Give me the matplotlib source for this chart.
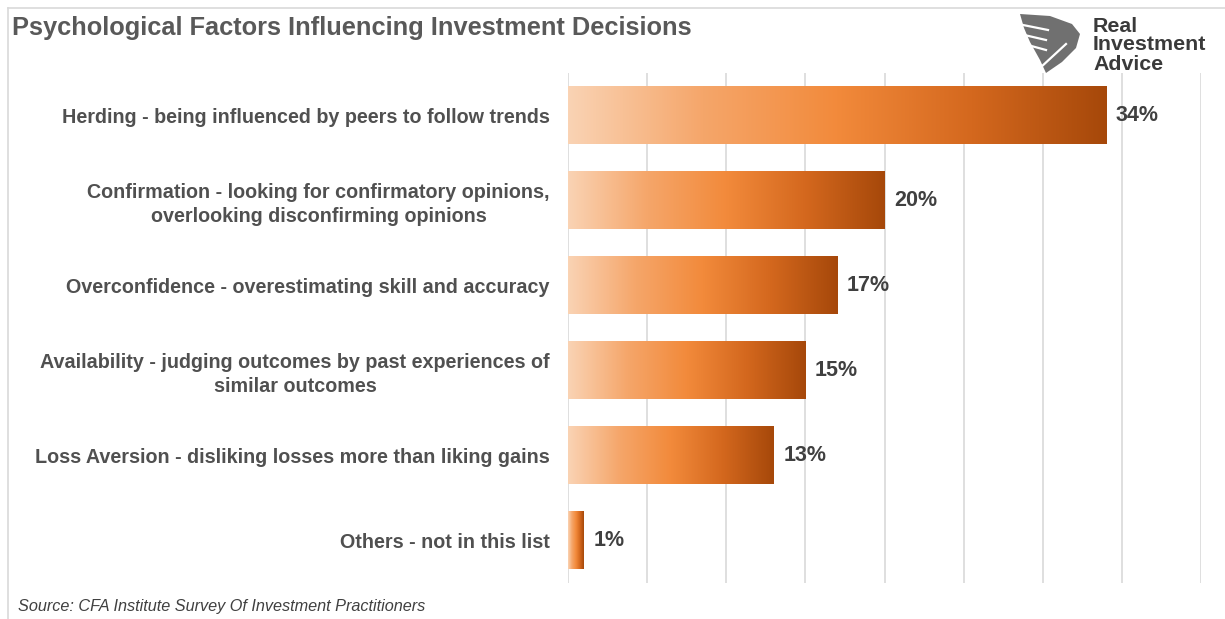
import matplotlib
matplotlib.use("Agg")
import matplotlib.pyplot as plt
import numpy as np
from matplotlib.colors import LinearSegmentedColormap
from matplotlib.lines import Line2D
from matplotlib.patches import Polygon

categories = [
    "Herding - being influenced by peers to follow trends",
    "Confirmation - looking for confirmatory opinions,\noverlooking disconfirming opinions",
    "Overconfidence - overestimating skill and accuracy",
    "Availability - judging outcomes by past experiences of\nsimilar outcomes",
    "Loss Aversion - disliking losses more than liking gains",
    "Others - not in this list",
]
values = [34, 20, 17, 15, 13, 1]
value_labels = ["34%", "20%", "17%", "15%", "13%", "1%"]
x_ticks = [0, 5, 10, 15, 20, 25, 30, 35, 40]

plt.rcParams['font.family'] = ['Liberation Sans', 'DejaVu Sans']

W, H = 1225, 619
fig = plt.figure(figsize=(W / 100, H / 100), dpi=100)
ax = fig.add_axes([568 / W, 1 - 583 / H, (1201 - 568) / W, (583 - 73) / H])

cmap = LinearSegmentedColormap.from_list(
    "grad", ["#FAD3B4", "#F5A66A", "#F28A3B", "#D4681E", "#A6480A"])
grad = np.linspace(0, 1, 256).reshape(1, -1)

bh = 0.68
for i, v in enumerate(values):
    ax.imshow(grad, cmap=cmap, aspect='auto',
              extent=[0, v, i + bh / 2, i - bh / 2], zorder=3,
              interpolation='bilinear')
    ax.text(v + 0.6, i, value_labels[i], va='center', ha='left',
            fontsize=15.5, fontweight='bold', color='#404040')

ax.set_xlim(0, 40)
ax.set_ylim(len(values) - 0.5, -0.5)
ax.set_xticks(x_ticks)
ax.set_xticklabels([])
ax.set_yticks(range(len(categories)))
ax.set_yticklabels(categories, fontsize=14.2, fontweight='bold', color='#505050',
                   linespacing=1.3, multialignment='center')
ax.tick_params(axis='both', length=0, pad=13)
ax.grid(axis='x', color='#D9D9D9', linewidth=1.2, zorder=0)
ax.set_axisbelow(True)
for s in ax.spines.values():
    s.set_visible(False)

fig.text(12 / W, 1 - 28 / H, "Psychological Factors Influencing Investment Decisions",
         fontsize=18.3, fontweight='bold', color='#595959', va='center', ha='left')
fig.text(18 / W, 1 - 606 / H, "Source: CFA Institute Survey Of Investment Practitioners",
         fontsize=11.7, style='italic', color='#404040', va='center', ha='left')

# logo
for word, yy in zip(["Real", "Investment", "Advice"], [26, 45, 64]):
    fig.text(1093 / W, 1 - yy / H, word, fontsize=15.4, fontweight='bold',
             color='#3A3A3A', va='center', ha='left')
shield = [(1020, 14), (1050, 16), (1072, 24), (1080, 34), (1076, 48),
          (1062, 62), (1046, 73), (1040, 60), (1030, 42), (1024, 28)]
fig.patches.append(Polygon([(x / W, 1 - y / H) for x, y in shield], closed=True,
                           transform=fig.transFigure, facecolor='#707070',
                           edgecolor='none'))
for (x0, y0), (x1, y1) in [((1018, 24), (1048, 30)), ((1020, 34), (1046, 40)),
                           ((1024, 44), (1046, 50)), ((1040, 68), (1066, 44))]:
    fig.add_artist(Line2D([x0 / W, x1 / W], [1 - y0 / H, 1 - y1 / H],
                          transform=fig.transFigure, color='white', linewidth=1.6))

# frame
fig.add_artist(Line2D([8 / W, 1], [1 - 8 / H, 1 - 8 / H], transform=fig.transFigure,
                      color='#D9D9D9', linewidth=1.2))
fig.add_artist(Line2D([8 / W, 8 / W], [0, 1 - 8 / H], transform=fig.transFigure,
                      color='#D9D9D9', linewidth=1.2))

fig.savefig("out.png", dpi=100)
